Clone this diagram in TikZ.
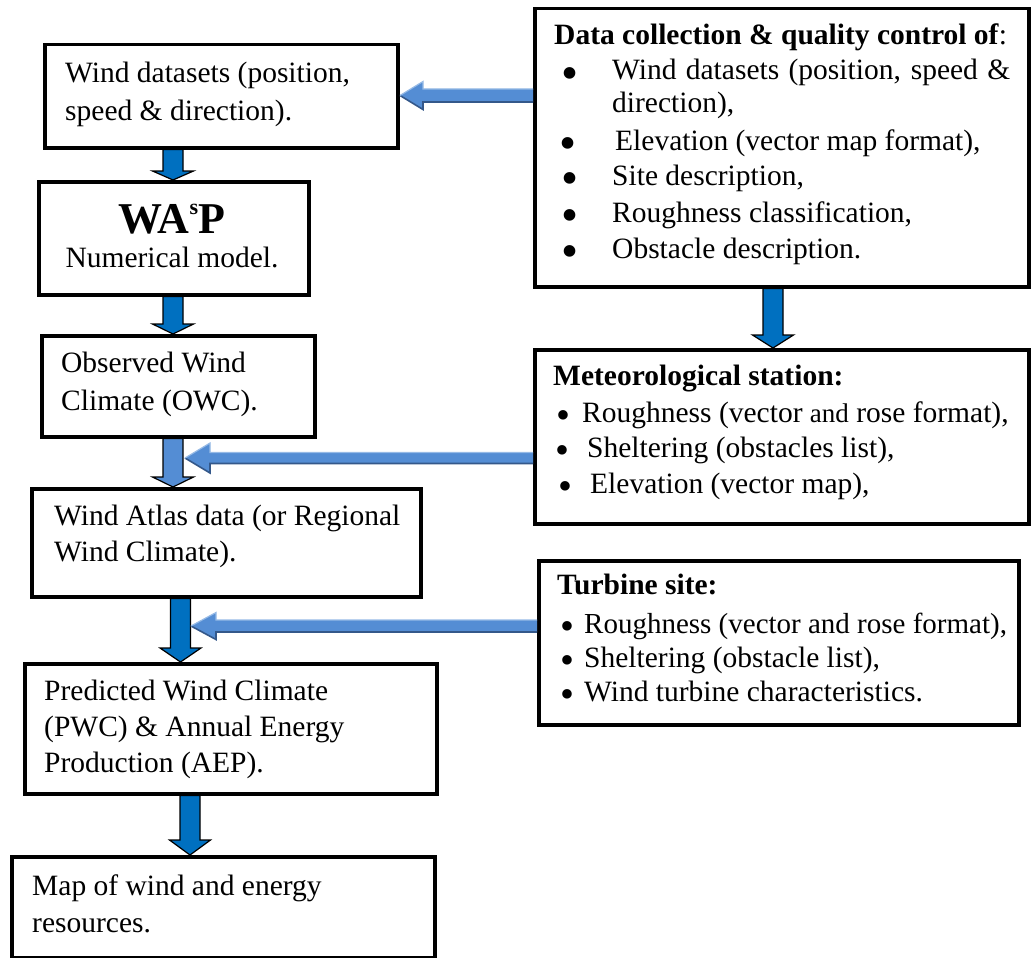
\documentclass[tikz,border=0pt]{standalone}
\usepackage{fontspec}
\usepackage{graphicx}
\setmainfont{Liberation Serif}
\usetikzlibrary{calc}
\definecolor{darkblue}{RGB}{0,112,192}
\definecolor{lblue}{RGB}{84,141,212}
\definecolor{ldark}{RGB}{52,88,138}
\definecolor{llight}{RGB}{150,186,230}
\newcommand\bigbul{\raisebox{-9.7pt}[0pt][0pt]{\scalebox{1.65}{\textbullet}}}
\newcommand\midbul{\raisebox{-6.5pt}[0pt][0pt]{\scalebox{1.35}{\textbullet}}}
\newcommand\blkbox[5]{\node[box,minimum width={#4-#2},minimum height={#5-#3}] (#1) at (#2,#3) {};}
% down block arrow: from node, to node, x centre, head length, style
\newcommand\dnarr[5]{\draw[#5] let \p1=(#1.south), \p2=(#2.north) in
  (#3pt-10pt,\y1) -- (#3pt+10pt,\y1) -- (#3pt+10pt,\y2+#4pt) -- (#3pt+20.5pt,\y2+#4pt) --
  (#3pt,\y2) -- (#3pt-20.5pt,\y2+#4pt) -- (#3pt-10pt,\y2+#4pt) -- cycle;}
% left block arrow: tail node, tip coordinate, shaft half, head half, head length
\newcommand\lfarr[5]{%
  \fill[lblue] let \p1=(#1.west), \p2=(#2) in
  (\x1,\y2+#3) -- (\x2+#5,\y2+#3) -- (\x2+#5,\y2+#4) -- (\x2,\y2) -- (\x2+#5,\y2-#4) --
  (\x2+#5,\y2-#3) -- (\x1,\y2-#3) -- cycle;
  \draw[ldark,line width=1.6pt] let \p1=(#1.west), \p2=(#2) in
  (\x1,\y2-#3) -- (\x2+#5,\y2-#3) -- (\x2+#5,\y2-#4) -- (\x2,\y2);
  \draw[llight,line width=1.2pt] let \p1=(#1.west), \p2=(#2) in
  (\x1,\y2+#3) -- (\x2+#5,\y2+#3) -- (\x2+#5,\y2+#4) -- (\x2,\y2);}
\begin{document}
\begin{tikzpicture}[x=1pt,y=-1pt,
  box/.style={draw=black,line width=3.5pt,inner sep=0pt,anchor=north west,fill=white},
  txt/.style={anchor=base west,inner sep=0pt,font=\fontsize{29.5}{36}\selectfont},
  ctxt/.style={anchor=base,inner sep=0pt,font=\fontsize{29.5}{36}\selectfont},
  darr/.style={fill=darkblue,draw=black,line width=1.2pt,line join=miter},
  marr/.style={fill=lblue,draw=black,line width=1.2pt,line join=miter}]
\useasboundingbox (0,0) rectangle (1031,958);

% boxes
\blkbox{b1}{43}{43}{396}{146}
\blkbox{b2}{37}{180}{307}{293}
\blkbox{b3}{40}{334}{313}{435}
\blkbox{b4}{30}{487}{419}{595}
\blkbox{b5}{23}{662}{435}{792}
\blkbox{b6}{10}{855}{433}{956}
\blkbox{dc}{533}{7}{1027}{285}
\blkbox{met}{533}{348}{1027}{522}
\blkbox{tur}{537}{559}{1017}{723}

% down arrows
\dnarr{b1}{b2}{173}{9}{darr}
\dnarr{b2}{b3}{173}{10}{darr}
\dnarr{b3}{b4}{173}{10}{marr}
\dnarr{b4}{b5}{180.5}{14}{darr}
\dnarr{b5}{b6}{190}{15}{darr}
\dnarr{dc}{met}{773}{13}{darr}

% left arrows
\coordinate (a0tip) at (400,95.5);
\coordinate (a1tip) at (185,458);
\coordinate (a2tip) at (191,626);
\lfarr{dc}{a0tip}{6.5pt}{14pt}{23pt}
\lfarr{met}{a1tip}{5.5pt}{15pt}{25pt}
\lfarr{tur}{a2tip}{6pt}{13.5pt}{25pt}

% left column texts
\node[txt] (t1a) at (65,83) {Wind datasets (position,};
\node[txt] (t1b) at (65,120) {speed \& direction).};
\node[anchor=base,inner sep=0pt,font=\fontsize{44}{44}\selectfont\bfseries] (t2a) at (172,233)
  {WA\raisebox{19pt}{\fontsize{22}{22}\selectfont s}P};
\node[ctxt] (t2b) at (172,267) {Numerical model.};
\node[txt] (t3a) at (61,372) {Observed Wind};
\node[txt] (t3b) at (61,410) {Climate (OWC).};
\node[txt] (t4a) at (54,525) {Wind Atlas data (or Regional};
\node[txt] (t4b) at (54,561) {Wind Climate).};
\node[txt] (t5a) at (44,700) {Predicted Wind Climate};
\node[txt] (t5b) at (44,736) {(PWC) \& Annual Energy};
\node[txt] (t5c) at (44,772) {Production (AEP).};
\node[txt] (t6a) at (32,895) {Map of wind and energy};
\node[txt] (t6b) at (32,932) {resources.};

% data collection box
\node[txt] (dch) at (554,45) {\textbf{Data collection \& quality control of}:};
\node[txt] (dcb1) at (561.5,80) {\bigbul};
\node[txt] (dcl1) at (612,80) {\makebox[398pt][s]{Wind datasets (position, speed \&}};
\node[txt] (dcl1b) at (612,113) {direction),};
\node[txt] (dcb2) at (559,150) {\bigbul};
\node[txt] (dcl2) at (615,150) {Elevation (vector map format),};
\node[txt] (dcb3) at (561.5,185) {\bigbul};
\node[txt] (dcl3) at (612,185) {Site description,};
\node[txt] (dcb4) at (561.5,222) {\bigbul};
\node[txt] (dcl4) at (612,222) {Roughness classification,};
\node[txt] (dcb5) at (561.5,258) {\bigbul};
\node[txt] (dcl5) at (612,258) {Obstacle description.};

% meteorological station box
\node[txt] (meh) at (553,385) {\textbf{Meteorological station:}};
\node[txt] (meb1) at (556,422) {\midbul};
\node[txt] (mel1) at (582,422) {Roughness (vector {\fontsize{27}{27}\selectfont and} rose format),};
\node[txt] (meb2) at (555,457) {\midbul};
\node[txt] (mel2) at (587,457) {Sheltering (obstacles list),};
\node[txt] (meb3) at (558,493) {\midbul};
\node[txt] (mel3) at (590,493) {Elevation (vector map),};

% turbine site box
\node[txt] (tuh) at (557,594) {\textbf{Turbine site:}};
\node[txt] (tub1) at (560,633) {\midbul};
\node[txt,font=\fontsize{29}{36}\selectfont] (tul1) at (584,633) {Roughness (vector and rose format),};
\node[txt] (tub2) at (560,667) {\midbul};
\node[txt] (tul2) at (584,667) {Sheltering (obstacle list),};
\node[txt] (tub3) at (560,701) {\midbul};
\node[txt] (tul3) at (584,701) {Wind turbine characteristics.};
\end{tikzpicture}
\end{document}
